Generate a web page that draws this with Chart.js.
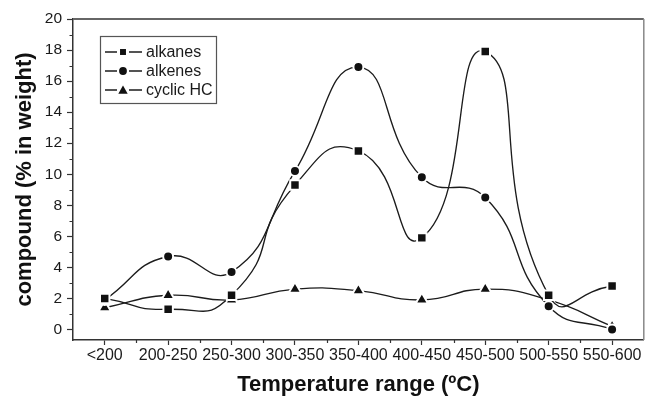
<!DOCTYPE html>
<html><head><meta charset="utf-8">
<script src="https://cdn.jsdelivr.net/npm/chart.js@4.4.1/dist/chart.umd.min.js"></script>
<style>html,body{margin:0;padding:0;background:#fff;}#wrap{width:653px;height:397px;}</style>
</head><body><div id="wrap"><canvas id="c" width="653" height="397"></canvas></div>
<script>
const categories = ['<200','200-250','250-300','300-350','350-400','400-450','450-500','500-550','550-600'];
const alkanes  = [2.0, 1.3, 2.2, 9.3, 11.5, 5.9, 17.9, 2.2, 2.8];
const alkenes  = [1.9, 4.7, 3.7, 10.2, 16.9, 9.8, 8.5, 1.5, 0.0];
const cyclicHC = [1.4, 2.2, 1.9, 2.6, 2.5, 1.9, 2.6, 1.9, 0.2];
const seriesNames = ['alkanes', 'alkenes', 'cyclic HC'];
const yTicks = [0, 2, 4, 6, 8, 10, 12, 14, 16, 18, 20];
const yMinorTicks = [1, 3, 5, 7, 9, 11, 13, 15, 17, 19];
const xTitle = 'Temperature range (ºC)';
const yTitle = 'compound (% in weight)';

const FONT = "'Liberation Sans', Arial, Helvetica, sans-serif";
const LINE = '#1c1c1c';
const AXIS = '#333';

const styles = [
  {pointStyle: 'rect', pointRadius: 6.7, tension: 0.6},
  {pointStyle: 'circle', pointRadius: 5, tension: 0.5},
  {pointStyle: 'triangle', pointRadius: 7.2, tension: 0.5}
];
const seriesData = [alkanes, alkenes, cyclicHC];

const datasets = seriesData.map((d, i) => ({
  label: seriesNames[i],
  data: d,
  borderColor: LINE,
  borderWidth: 1.35,
  tension: styles[i].tension,
  fill: false,
  pointStyle: styles[i].pointStyle,
  pointRadius: styles[i].pointRadius,
  pointBackgroundColor: '#111',
  pointBorderColor: '#fff',
  pointBorderWidth: 2
}));

function drawMarker(ctx, style, x, y, r) {
  ctx.beginPath();
  if (style === 'rect') {
    const s = r * Math.SQRT1_2;
    ctx.rect(x - s, y - s, 2 * s, 2 * s);
  } else if (style === 'circle') {
    ctx.arc(x, y, r, 0, Math.PI * 2);
  } else {
    for (let k = 0; k < 3; k++) {
      const a = k * 2 * Math.PI / 3;
      const px = x + Math.sin(a) * r, py = y - Math.cos(a) * r;
      if (k === 0) ctx.moveTo(px, py); else ctx.lineTo(px, py);
    }
    ctx.closePath();
  }
  ctx.fillStyle = '#111';
  ctx.fill();
}

const extras = {
  id: 'extras',
  afterDraw(chart) {
    const {ctx, chartArea: a, scales: {x, y}} = chart;
    ctx.save();
    // frame top & right
    ctx.strokeStyle = '#666';
    ctx.lineWidth = 2;
    ctx.beginPath();
    ctx.moveTo(a.left, a.top); ctx.lineTo(a.right, a.top);
    ctx.stroke();
    ctx.strokeStyle = '#888';
    ctx.lineWidth = 1.5;
    ctx.beginPath();
    ctx.moveTo(a.right, a.top); ctx.lineTo(a.right, a.bottom);
    ctx.stroke();
    // minor ticks
    ctx.strokeStyle = AXIS;
    ctx.lineWidth = 1.2;
    ctx.beginPath();
    yMinorTicks.forEach(v => {
      const py = Math.round(y.getPixelForValue(v)) + 0.5;
      ctx.moveTo(a.left - 3.5, py); ctx.lineTo(a.left, py);
    });
    for (let i = 0; i < categories.length - 1; i++) {
      const px = Math.round(x.getPixelForValue(i + 0.5)) + 0.5;
      ctx.moveTo(px, a.bottom); ctx.lineTo(px, a.bottom + 3);
    }
    ctx.stroke();
    // legend
    const bx = 100, by = 36, bw = 116, bh = 67;
    ctx.fillStyle = '#fff';
    ctx.fillRect(bx, by, bw, bh);
    ctx.strokeStyle = '#555';
    ctx.lineWidth = 1.2;
    ctx.strokeRect(bx + 0.5, by + 0.5, bw, bh);
    ctx.font = '16px ' + FONT;
    ctx.textBaseline = 'middle';
    ctx.textAlign = 'left';
    seriesNames.forEach((name, i) => {
      const ry = 52 + i * 19;
      ctx.strokeStyle = LINE;
      ctx.lineWidth = 1.3;
      ctx.beginPath();
      ctx.moveTo(105, ry); ctx.lineTo(117, ry);
      ctx.moveTo(129, ry); ctx.lineTo(142, ry);
      ctx.stroke();
      const rr = [4.2, 3.9, 5.4][i];
      drawMarker(ctx, styles[i].pointStyle, 123, i === 2 ? ry + 1 : ry, rr);
      ctx.fillStyle = '#1a1a1a';
      ctx.fillText(name, 146, ry + 1);
    });
    ctx.restore();
  }
};

new Chart(document.getElementById('c'), {
  type: 'line',
  data: {labels: categories, datasets},
  options: {
    responsive: false,
    animation: false,
    devicePixelRatio: 1,
    layout: {padding: {top: 19, right: 2, left: 0, bottom: 0}},
    plugins: {legend: {display: false}, tooltip: {enabled: false}},
    scales: {
      x: {
        type: 'category',
        offset: true,
        grid: {display: true, drawOnChartArea: false, drawTicks: true, tickLength: 5, color: AXIS, tickWidth: 1.2},
        border: {display: true, color: AXIS, width: 1.5},
        ticks: {font: {family: FONT, size: 16}, color: '#1a1a1a', padding: 0.5, maxRotation: 0, autoSkip: false},
        title: {display: true, text: xTitle, font: {family: FONT, size: 22, weight: 'bold'}, color: '#111', padding: {top: 0, bottom: -1.3}},
        afterFit: s => { s.height = 57; }
      },
      y: {
        type: 'linear',
        min: -0.68,
        max: 20,
        afterBuildTicks: s => { s.ticks = yTicks.map(v => ({value: v})); },
        grid: {display: true, drawOnChartArea: false, drawTicks: true, tickLength: 6, color: AXIS, tickWidth: 1.2},
        border: {display: true, color: AXIS, width: 1.5},
        ticks: {font: {family: FONT, size: 15.5}, color: '#1a1a1a', padding: 5},
        title: {display: true, text: yTitle, font: {family: FONT, size: 22, weight: 'bold'}, color: '#111', padding: {top: 12, bottom: 0}},
        afterFit: s => { s.width = 73; }
      }
    }
  },
  plugins: [extras]
});
</script>
</body></html>
